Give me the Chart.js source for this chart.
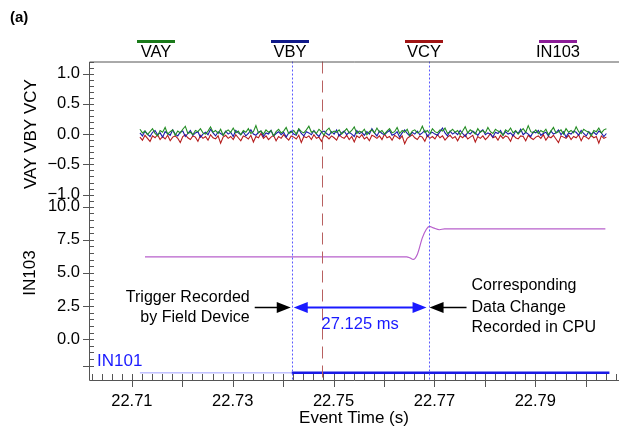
<!DOCTYPE html>
<html>
<head>
<meta charset="utf-8">
<script src="https://cdn.jsdelivr.net/npm/chart.js@4.4.1/dist/chart.umd.min.js"></script>
<style>
  html, body { margin: 0; padding: 0; background: #fff; }
  #wrap { width: 619px; height: 429px; position: relative; }
</style>
</head>
<body>
<div id="wrap"><canvas id="chart"></canvas></div>
<script>
// sample clock of the three voltage channels
const sampleStart = 22.7116;
const sampleStep = 0.0005;

const vayVals = [
  0.08, 0.02, 0.05, -0.01, 0.04, 0.09, 0.01, -0.03, 0.06, 0.03,
  0.11, 0.00, 0.04, 0.07, -0.02, 0.05, 0.02, 0.08, 0.13, 0.01,
  0.03, -0.01, 0.06, 0.04, 0.09, 0.02, 0.00, 0.05, 0.12, 0.03,
  0.06, 0.01, 0.08, -0.02, 0.04, 0.07, 0.03, 0.10, 0.02, 0.05,
  -0.01, 0.06, 0.03, 0.09, 0.01, 0.04, 0.14, 0.02, 0.05, 0.00,
  0.07, 0.03, 0.06, -0.03, 0.04, 0.08, 0.02, 0.05, 0.11, 0.01,
  0.03, 0.06, 0.00, 0.09, 0.04, 0.02, 0.07, 0.13, 0.03, 0.05,
  0.01, 0.08, 0.04, -0.02, 0.06, 0.10, 0.02, 0.05, 0.03, 0.07,
  0.00, 0.04, 0.09, 0.02, 0.06, 0.12, 0.01, 0.05, 0.03, 0.08,
  -0.01, 0.04, 0.07, 0.02, 0.10, 0.03, 0.06, 0.00, 0.05, 0.09,
  0.02, 0.04, 0.11, 0.01, 0.06, 0.03, 0.08, -0.02, 0.05, 0.07,
  0.02, 0.04, 0.13, 0.03, 0.06, 0.00, 0.09, 0.04, 0.02, 0.07,
  0.05, 0.10, 0.01, 0.04, 0.08, 0.03, 0.06, -0.01, 0.05, 0.12,
  0.02, 0.07, 0.04, 0.00, 0.09, 0.03, 0.06, 0.02, 0.11, 0.04,
  0.01, 0.08, 0.05, 0.03, -0.02, 0.07, 0.04, 0.10, 0.02, 0.06,
  0.00, 0.05, 0.09, 0.03, 0.14, 0.04, 0.02, 0.07, 0.01, 0.06,
  0.03, 0.08, -0.01, 0.05, 0.11, 0.02, 0.04, 0.07, 0.00, 0.09,
  0.03, 0.06, 0.02, 0.12, 0.04, 0.01, 0.08, 0.05, 0.03, -0.03,
  0.06, 0.04, 0.10, 0.02, 0.07, 0.09
];
const vbyVals = [
  0.02, -0.03, 0.05, 0.00, -0.04, 0.03, 0.06, -0.01, 0.02, -0.05,
  0.04, 0.01, -0.02, 0.07, 0.00, -0.03, 0.03, 0.05, -0.04, 0.01,
  0.06, -0.02, 0.02, 0.04, -0.05, 0.00, 0.03, -0.01, 0.08, 0.02,
  -0.03, 0.04, 0.01, -0.02, 0.05, 0.00, 0.03, -0.04, 0.06, 0.02,
  -0.01, 0.04, -0.03, 0.01, 0.07, 0.00, -0.02, 0.03, 0.05, -0.04,
  0.02, 0.00, 0.06, -0.03, 0.01, 0.04, -0.01, 0.03, -0.05, 0.02,
  0.05, 0.00, -0.02, 0.08, 0.01, -0.03, 0.04, 0.02, -0.01, 0.06,
  0.00, -0.04, 0.03, 0.05, 0.01, -0.02, 0.04, 0.00, 0.07, -0.03,
  0.02, 0.05, -0.01, 0.03, 0.00, -0.04, 0.06, 0.01, 0.03, -0.02,
  0.04, 0.00, 0.09, 0.02, -0.03, 0.05, 0.01, -0.01, 0.03, 0.06,
  -0.02, 0.00, 0.04, -0.05, 0.02, 0.07, 0.01, -0.03, 0.03, 0.00,
  0.05, -0.01, 0.02, 0.06, -0.04, 0.01, 0.03, 0.00, -0.02, 0.04,
  0.10, 0.02, -0.03, 0.05, 0.00, 0.03, -0.01, 0.06, 0.01, -0.04,
  0.03, 0.00, 0.05, 0.02, -0.02, 0.04, 0.07, -0.01, 0.02, 0.00,
  -0.05, 0.03, 0.01, 0.06, -0.02, 0.04, 0.00, 0.02, -0.03, 0.05,
  0.01, 0.08, -0.01, 0.03, 0.00, -0.04, 0.04, 0.02, 0.06, -0.02,
  0.01, 0.03, -0.03, 0.05, 0.00, 0.02, 0.07, -0.01, 0.04, -0.05,
  0.02, 0.00, 0.05, 0.03, -0.02, 0.06, 0.01, -0.03, 0.04, 0.00,
  0.03, -0.01, 0.05, 0.02, -0.04, 0.01
];
const vcyVals = [
  -0.05, -0.10, -0.02, -0.07, -0.12, -0.03, -0.06, -0.01, -0.09, -0.04,
  -0.08, -0.02, -0.11, -0.05, -0.03, -0.07, -0.14, -0.04, -0.01, -0.06,
  -0.09, -0.03, -0.05, -0.12, -0.02, -0.07, -0.04, -0.10, -0.01, -0.06,
  -0.08, -0.03, -0.15, -0.05, -0.02, -0.07, -0.04, -0.09, -0.01, -0.06,
  -0.11, -0.03, -0.05, -0.08, -0.02, -0.13, -0.04, -0.06, 0.01, -0.07,
  -0.03, -0.09, -0.05, -0.02, -0.11, -0.04, -0.07, -0.01, -0.06, -0.10,
  -0.03, -0.05, -0.08, -0.02, -0.14, -0.04, -0.06, -0.03, -0.09, -0.01,
  -0.07, -0.05, -0.12, -0.02, -0.04, -0.08, -0.03, -0.06, -0.10, -0.01,
  -0.05, -0.07, -0.02, -0.09, -0.04, -0.13, -0.03, -0.06, -0.01, -0.08,
  -0.05, -0.11, -0.02, -0.04, -0.07, -0.03, -0.09, 0.00, -0.06, -0.04,
  -0.10, -0.02, -0.05, -0.08, -0.03, -0.16, -0.07, -0.04, -0.01, -0.06,
  -0.09, -0.03, -0.05, -0.12, -0.02, -0.07, -0.04, -0.08, -0.01, -0.06,
  -0.03, -0.10, -0.05, -0.02, -0.07, -0.04, -0.11, -0.03, -0.06, -0.01,
  -0.08, -0.05, -0.02, -0.13, -0.04, -0.07, -0.03, -0.09, -0.05, 0.01,
  -0.06, -0.04, -0.10, -0.02, -0.07, -0.03, -0.05, -0.12, -0.01, -0.06,
  -0.08, -0.03, -0.04, -0.11, -0.02, -0.06, -0.09, -0.05, -0.03, -0.07,
  -0.01, -0.10, -0.04, -0.06, -0.02, -0.08, -0.14, -0.03, -0.05, -0.07,
  -0.02, -0.09, -0.04, -0.06, -0.01, -0.11, -0.03, -0.05, -0.08, -0.02,
  -0.06, -0.04, -0.15, -0.03, -0.07, -0.05
];

// analog IN103 trace
const in103Times = [22.7126, 22.7645, 22.7651, 22.7658, 22.7666, 22.7676, 22.7684, 22.7690, 22.7698, 22.7710, 22.7720, 22.8039];
const in103Vals = [6.22, 6.22, 6.15, 6.02, 6.40, 7.65, 8.30, 8.52, 8.40, 8.26, 8.33, 8.33];

// digital IN101: 0 = deasserted, 1 = asserted
const in101Times = [22.7116, 22.7417, 22.8047];
const in101States = [0, 1, 1];

// event markers (s)
const triggerTime = 22.7417;
const cpuTime = 22.76883;
const cursorTime = 22.7478;

const xTicks = [22.71, 22.73, 22.75, 22.77, 22.79];
const vTicks = [-1, -0.5, 0, 0.5, 1];
const in103Ticks = [0, 2.5, 5, 7.5, 10];

const FONT = "'Liberation Sans', Arial, sans-serif";
const tickFont = { family: FONT, size: 16.5 };
const AXIS = '#555';

const toPoints = vals => vals.map((v, i) => ({ x: sampleStart + i * sampleStep, y: v }));
const fmtTick = v => (v < 0 ? '\u2212' : '') + Math.abs(v).toFixed(1);

const yCommon = {
  type: 'linear',
  position: 'left',
  stack: 'rows',
  offset: false,
  grid: { display: false, drawTicks: false },
  border: { display: false },
  afterFit: s => { s.width = 89; },
};

function arrowHead(ctx, x, y, dir, color) {
  ctx.fillStyle = color;
  ctx.beginPath();
  ctx.moveTo(x, y);
  ctx.lineTo(x - dir * 14, y - 5.5);
  ctx.lineTo(x - dir * 14, y + 5.5);
  ctx.closePath();
  ctx.fill();
}

const decor = {
  id: 'decor',
  afterDatasetsDraw(chart) {
    const { ctx, chartArea: a, scales } = chart;
    ctx.save();
    ctx.lineWidth = 1;
    ctx.strokeStyle = '#5a5aff';
    ctx.setLineDash([2, 2]);
    [triggerTime, cpuTime].forEach(t => {
      const px = Math.round(scales.x.getPixelForValue(t)) + 0.5;
      ctx.beginPath(); ctx.moveTo(px, a.top); ctx.lineTo(px, a.bottom); ctx.stroke();
    });
    ctx.strokeStyle = '#b86060';
    ctx.setLineDash([12, 7]);
    const cx = Math.round(scales.x.getPixelForValue(cursorTime)) + 0.5;
    ctx.beginPath(); ctx.moveTo(cx, a.top); ctx.lineTo(cx, a.bottom); ctx.stroke();
    ctx.restore();
  },
  afterDraw(chart) {
    const { ctx, chartArea: a, scales } = chart;
    const x = scales.x;
    ctx.save();

    // frame
    ctx.strokeStyle = AXIS;
    ctx.lineWidth = 1;
    ctx.beginPath();
    ctx.moveTo(a.right, a.top + 0.5); ctx.lineTo(a.left + 0.5, a.top + 0.5);
    ctx.lineTo(a.left + 0.5, a.bottom + 0.5); ctx.lineTo(a.right, a.bottom + 0.5);
    ctx.stroke();

    // y tick marks
    const yTick = (py, major) => {
      py = Math.round(py) + 0.5;
      ctx.beginPath(); ctx.moveTo(a.left - (major ? 6 : 0), py); ctx.lineTo(a.left + 5, py); ctx.stroke();
    };
    for (let k = -12; k <= 12; k++) yTick(scales.yV.getPixelForValue(k / 10), k % 5 === 0);
    for (let k = -4; k <= 20; k++) yTick(scales.yIN103.getPixelForValue(k / 2), k % 5 === 0);
    yTick(scales.yIN101.top, true);

    // x tick marks
    for (let k = 11351; k <= 11403; k++) {
      const px = Math.round(x.getPixelForValue(k * 0.002)) + 0.5;
      const major = k % 5 === 0;
      ctx.beginPath(); ctx.moveTo(px, a.bottom - 6); ctx.lineTo(px, a.bottom + (major ? 7 : 0)); ctx.stroke();
    }

    // legend
    ctx.textAlign = 'center';
    ctx.textBaseline = 'middle';
    ctx.font = '16.5px ' + FONT;
    chart.data.datasets.slice(0, 4).forEach((ds, i) => {
      const cxp = a.left + 67 + i * 134;
      ctx.fillStyle = ds.legendColor;
      ctx.fillRect(cxp - 19, 40, 38, 3);
      ctx.fillStyle = '#000';
      ctx.fillText(ds.label, cxp, 52);
    });

    // panel label
    ctx.textAlign = 'left';
    ctx.font = 'bold 15px ' + FONT;
    ctx.fillText('(a)', 10, 18);

    // axis titles
    ctx.font = '17px ' + FONT;
    ctx.textAlign = 'center';
    ctx.fillText('Event Time (s)', (a.left + a.right) / 2, 418);
    const vert = (txt, px, py) => {
      ctx.save(); ctx.translate(px, py); ctx.rotate(-Math.PI / 2); ctx.fillText(txt, 0, 0); ctx.restore();
    };
    vert('VAY VBY VCY', 31, scales.yV.getPixelForValue(0));
    vert('IN103', 30, scales.yIN103.getPixelForValue(5));
    ctx.textAlign = 'left';
    ctx.fillStyle = '#1a1aff';
    ctx.fillText('IN101', a.left + 8, 361);

    // annotations
    const ay = Math.round(scales.yIN103.getPixelForValue(2.4)) + 0.5;
    const xT = x.getPixelForValue(triggerTime);
    const xC = x.getPixelForValue(cpuTime);
    ctx.strokeStyle = '#000';
    ctx.lineWidth = 1.5;
    ctx.beginPath(); ctx.moveTo(xT - 37, ay); ctx.lineTo(xT - 10, ay); ctx.stroke();
    arrowHead(ctx, xT - 1, ay, 1, '#000');
    ctx.beginPath(); ctx.moveTo(xC + 38, ay); ctx.lineTo(xC + 10, ay); ctx.stroke();
    arrowHead(ctx, xC + 1, ay, -1, '#000');
    ctx.strokeStyle = '#1a1aff';
    ctx.lineWidth = 2;
    ctx.beginPath(); ctx.moveTo(xT + 12, ay); ctx.lineTo(xC - 12, ay); ctx.stroke();
    arrowHead(ctx, xT + 2, ay, -1, '#1a1aff');
    arrowHead(ctx, xC - 2, ay, 1, '#1a1aff');

    ctx.font = '16px ' + FONT;
    ctx.fillStyle = '#000';
    ctx.textAlign = 'right';
    ctx.fillText('Trigger Recorded', xT - 42, ay - 10);
    ctx.fillText('by Field Device', xT - 42, ay + 10);
    ctx.textAlign = 'left';
    ctx.fillText('Corresponding', xC + 43, ay - 22);
    ctx.fillText('Data Change', xC + 43, ay);
    ctx.fillText('Recorded in CPU', xC + 43, ay + 20);
    ctx.textAlign = 'center';
    ctx.fillStyle = '#1a1aff';
    ctx.font = '16.5px ' + FONT;
    ctx.fillText('27.125 ms', (xT + xC) / 2, ay + 17);

    ctx.restore();
  },
};

new Chart(document.getElementById('chart'), {
  type: 'line',
  data: {
    datasets: [
      { label: 'VAY', data: toPoints(vayVals), yAxisID: 'yV', borderColor: '#238c23', legendColor: '#1a7a1a', borderWidth: 1.1 },
      { label: 'VBY', data: toPoints(vbyVals), yAxisID: 'yV', borderColor: '#1c1ca8', legendColor: '#101a8a', borderWidth: 1.1 },
      { label: 'VCY', data: toPoints(vcyVals), yAxisID: 'yV', borderColor: '#b51c1c', legendColor: '#a01414', borderWidth: 1.1 },
      { label: 'IN103', data: in103Times.map((t, i) => ({ x: t, y: in103Vals[i] })), yAxisID: 'yIN103',
        borderColor: '#b860cc', legendColor: '#8c1c98', borderWidth: 1.2, cubicInterpolationMode: 'monotone' },
      { label: 'IN101', data: in101Times.map(t => ({ x: t, y: 0 })), yAxisID: 'yIN101',
        segment: {
          borderWidth: c => (in101States[c.p0DataIndex] ? 2.5 : 1),
          borderColor: c => (in101States[c.p0DataIndex] ? '#1a1ae6' : '#a0a0ff'),
        } },
    ],
  },
  options: {
    responsive: true,
    maintainAspectRatio: false,
    animation: false,
    events: [],
    parsing: false,
    elements: { point: { radius: 0 }, line: { tension: 0 } },
    layout: { padding: { top: 61.5, right: 0, left: 0, bottom: 0 } },
    plugins: { legend: { display: false }, tooltip: { enabled: false } },
    scales: {
      x: {
        type: 'linear',
        min: 22.7015,
        max: 22.8066,
        grid: { display: false, drawTicks: false },
        border: { display: false },
        afterBuildTicks: s => { s.ticks = xTicks.map(v => ({ value: v })); },
        ticks: { padding: 12, color: '#000', font: tickFont, autoSkip: false, maxRotation: 0, callback: v => v.toFixed(2) },
        afterFit: s => { s.height = 49; s.paddingLeft = 0; s.paddingRight = 0; },
      },
      yIN101: { ...yCommon, min: -1, max: 1, stackWeight: 14.3, ticks: { display: false } },
      yIN103: {
        ...yCommon, min: -2, max: 10, stackWeight: 159,
        afterBuildTicks: s => { s.ticks = in103Ticks.map(v => ({ value: v })); },
        ticks: { padding: 9, color: '#000', font: tickFont, autoSkip: false, callback: fmtTick },
      },
      yV: {
        ...yCommon, min: -1.2, max: 1.2, stackWeight: 145.2,
        afterBuildTicks: s => { s.ticks = vTicks.map(v => ({ value: v })); },
        ticks: { padding: 9, color: '#000', font: tickFont, autoSkip: false, callback: fmtTick },
      },
    },
  },
  plugins: [decor],
});
</script>
</body>
</html>
